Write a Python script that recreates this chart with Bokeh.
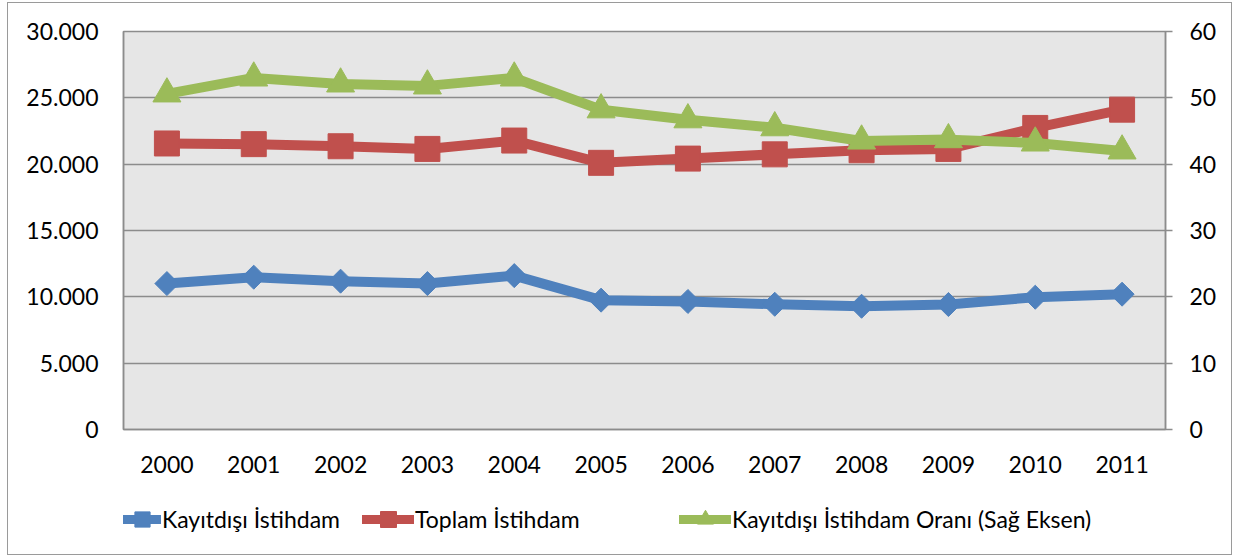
from bokeh.plotting import figure
from bokeh.layouts import column
from bokeh.models import (Range1d, LinearAxis, FixedTicker, Legend, LegendItem,
                          FactorRange)
from bokeh.embed import file_html
from bokeh.resources import INLINE
import math

years = ["2000", "2001", "2002", "2003", "2004", "2005", "2006", "2007",
         "2008", "2009", "2010", "2011"]
kayitdisi = [11000, 11480, 11180, 11000, 11600, 9750, 9650, 9440, 9290, 9420, 9970, 10200]
toplam = [21560, 21510, 21350, 21150, 21780, 20100, 20420, 20740, 21050, 21150, 22730, 24110]
oran = [50.6, 53.0, 52.1, 51.8, 53.0, 48.2, 46.7, 45.5, 43.5, 43.7, 43.2, 42.0]

left_ticks = [0, 5000, 10000, 15000, 20000, 25000, 30000]
left_labels = ["0", "5.000", "10.000", "15.000", "20.000", "25.000", "30.000"]
right_ticks = [0, 10, 20, 30, 40, 50, 60]

names = ["Kayıtdışı İstihdam", "Toplam İstihdam", "Kayıtdışı İstihdam Oranı (Sağ Eksen)"]
colors = ["#4F81BD", "#C0504D", "#9BBB59"]

FONT = "Lato"
FS = "23px"
GRID = "#8C8C8C"
W = 1223

p = figure(width=W, height=480, x_range=FactorRange(*years),
           y_range=Range1d(0, 30000), output_backend="svg", toolbar_location=None,
           min_border_left=115, min_border_right=66, min_border_top=28,
           min_border_bottom=54, background_fill_color="#E6E6E6",
           border_fill_color="white", outline_line_color=GRID,
           outline_line_width=1.5)
p.extra_y_ranges = {"right": Range1d(0, 60)}

p.xgrid.grid_line_color = None
p.ygrid.grid_line_color = GRID
p.ygrid.grid_line_width = 1.5
p.ygrid.ticker = FixedTicker(ticks=left_ticks)

ya = p.yaxis[0]
ya.ticker = FixedTicker(ticks=left_ticks)
ya.major_label_overrides = {t: l for t, l in zip(left_ticks, left_labels)}
ya.axis_line_color = GRID
ya.axis_line_width = 1.5
ya.major_tick_line_color = None
ya.major_tick_in = 0
ya.major_tick_out = 0
ya.minor_tick_line_color = None
ya.major_label_standoff = 25
ya.major_label_text_font = FONT
ya.major_label_text_font_size = FS
ya.major_label_text_color = "black"

ra = LinearAxis(y_range_name="right", ticker=FixedTicker(ticks=right_ticks))
ra.axis_line_color = GRID
ra.axis_line_width = 1.5
ra.major_tick_line_color = GRID
ra.major_tick_line_width = 1.5
ra.major_tick_in = 0
ra.major_tick_out = 7
ra.minor_tick_line_color = None
ra.major_label_standoff = 17
ra.major_label_text_font = FONT
ra.major_label_text_font_size = FS
ra.major_label_text_color = "black"
p.add_layout(ra, "right")

xa = p.xaxis[0]
xa.axis_line_color = GRID
xa.axis_line_width = 1.5
xa.major_tick_line_color = None
xa.major_tick_in = 0
xa.major_tick_out = 0
xa.minor_tick_line_color = None
xa.major_label_standoff = 26
xa.major_label_text_font = FONT
xa.major_label_text_font_size = FS
xa.major_label_text_color = "black"

series = [(kayitdisi, "default", "square", 17, math.pi / 4),
          (toplam, "default", "square", 25, 0),
          (oran, "right", "triangle", 28, 0)]

# legend strip below the chart
p2 = figure(width=W, height=71, x_range=Range1d(0, 1), y_range=Range1d(0, 1),
            output_backend="svg", toolbar_location=None, min_border=0,
            outline_line_color=None, background_fill_color="white",
            border_fill_color="white")
p2.axis.visible = False
p2.grid.visible = False

legend_x = [0, 239, 556]
glyph_w = [38, 52, 52]

for (vals, rng, marker, size, ang), name, col, lx, gw in zip(series, names, colors,
                                                           legend_x, glyph_w):
    p.line(years, vals, y_range_name=rng, line_color=col, line_width=10,
           line_join="round", line_cap="round")
    p.scatter(years, vals, y_range_name=rng, marker=marker, size=size,
              angle=ang, fill_color=col, line_color=col, line_width=1)
    # style-only renderers for the legend (placed outside the visible range)
    ln = p2.line([-5, -4], [-5, -4], line_color=col, line_width=9,
                 line_join="round", line_cap="round")
    sc = p2.scatter([-5], [-5], marker=marker, size=size, angle=ang,
                    fill_color=col, line_color=col, line_width=1)
    lg = Legend(items=[LegendItem(label=name, renderers=[ln, sc])],
                location=(lx, 15), orientation="horizontal",
                glyph_width=gw, glyph_height=40, label_standoff=1,
                padding=0, margin=0, border_line_color=None,
                background_fill_alpha=0,
                label_text_font=FONT, label_text_font_size=FS,
                label_text_color="black")
    p2.add_layout(lg, "center")

layout = column(p, p2, spacing=0,
                styles={"border": "1.5px solid #9a9a9a", "margin-left": "7px",
                        "margin-top": "2px", "gap": "0px"})

open("out.html", "w").write(file_html(layout, INLINE))
